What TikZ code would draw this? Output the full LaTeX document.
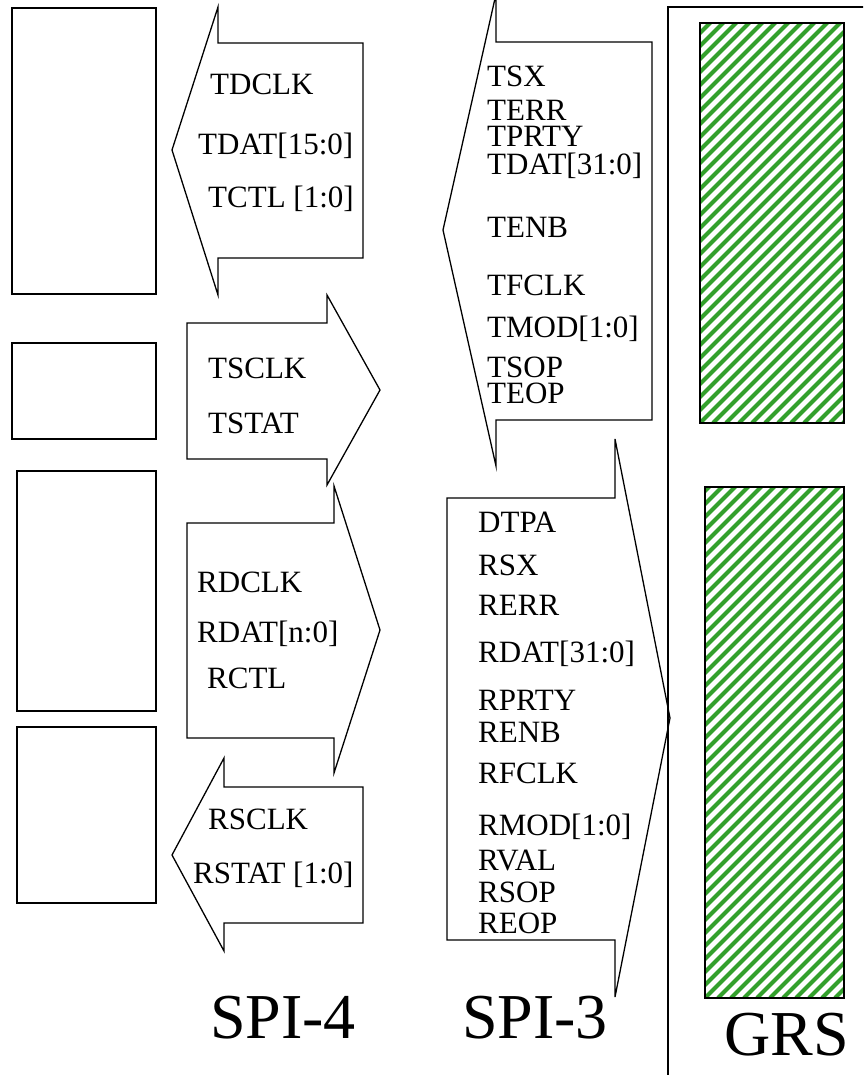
\documentclass[tikz,border=0pt]{standalone}
\usepackage{fontspec}
\setmainfont{Liberation Serif}
\usetikzlibrary{calc,positioning}
\definecolor{hatchgreen}{RGB}{51,160,44}

\begin{document}
\begin{tikzpicture}[x=1pt,y=-1pt,
  sig/.style={anchor=base west,inner sep=0pt,font=\fontsize{31}{31}\selectfont},
  big/.style={anchor=base,inner sep=0pt,font=\fontsize{64}{64}\selectfont},
  blk/.style={draw,line width=1.8pt},
  bus/.style={draw,line width=1.3pt,line join=miter},
  stripe/.style={draw=hatchgreen,line width=4.2pt}]

\useasboundingbox (0,0) rectangle (863,1075);
\clip (0,0) rectangle (863,1075);

% blocks on the left
\draw[blk] (12,8) rectangle (156,294);
\draw[blk] (12,343) rectangle (156,439);
\draw[blk] (17,471) rectangle (156,711);
\draw[blk] (17,727) rectangle (156,903);

% SPI-4 busses
\coordinate (tdtip) at (172,150);
\draw[bus] (tdtip) -- (218,7) -- (218,43) -- (363,43) -- (363,258)
  -- (218,258) -- (218,295) -- cycle;
\node[sig] (tdclk) at (210,95) {TDCLK};
\node[sig] (tdat) at (198,155) {TDAT[15:0]};
\node[sig] (tctl) at (208,208) {TCTL [1:0]};

\coordinate (tstip) at (380,390);
\draw[bus] (tstip) -- (327,485) -- (327,459) -- (187,459) -- (187,323)
  -- (327,323) -- (327,295) -- cycle;
\node[sig] (tsclk) at (208,378) {TSCLK};
\node[sig] (tstat) at (208,433) {TSTAT};

\coordinate (rdtip) at (380,630);
\draw[bus] (rdtip) -- (334,773) -- (334,738) -- (187,738) -- (187,523)
  -- (334,523) -- (334,486) -- cycle;
\node[sig] (rdclk) at (197,592) {RDCLK};
\node[sig] (rdat) at (197,642) {RDAT[n:0]};
\node[sig] (rctl) at (207,688) {RCTL};

\coordinate (rstip) at (172,855);
\draw[bus] (rstip) -- (224,758) -- (224,787) -- (363,787) -- (363,923)
  -- (224,923) -- (224,951) -- cycle;
\node[sig] (rsclk) at (208,829) {RSCLK};
\node[sig] (rstat) at (193,883) {RSTAT [1:0]};

% SPI-3 busses
\coordinate (txtip) at (443,230);
\draw[bus] (txtip) -- (496,-6) -- (496,42) -- (652,42) -- (652,420)
  -- (496,420) -- (496,466) -- cycle;
\node[sig] (tsx) at (487,87) {TSX};
\node[sig] (terr) at (487,121) {TERR};
\node[sig] (tprty) at (487,147) {TPRTY};
\node[sig] (tdat32) at (487,175) {TDAT[31:0]};
\node[sig] (tenb) at (487,237) {TENB};
\node[sig] (tfclk) at (487,295) {TFCLK};
\node[sig] (tmod) at (487,337) {TMOD[1:0]};
\node[sig] (tsop) at (487,377) {TSOP};
\node[sig] (teop) at (487,403) {TEOP};

\coordinate (rxtip) at (670,718);
\draw[bus] (rxtip) -- (615,997) -- (615,940) -- (447,940) -- (447,498)
  -- (615,498) -- (615,439) -- cycle;
\node[sig] (dtpa) at (478,532) {DTPA};
\node[sig] (rsx) at (478,575) {RSX};
\node[sig] (rerr) at (478,615) {RERR};
\node[sig] (rdat32) at (478,662) {RDAT[31:0]};
\node[sig] (rprty) at (478,710) {RPRTY};
\node[sig] (renb) at (478,742) {RENB};
\node[sig] (rfclk) at (478,783) {RFCLK};
\node[sig] (rmod) at (478,835) {RMOD[1:0]};
\node[sig] (rval) at (478,870) {RVAL};
\node[sig] (rsop) at (478,902) {RSOP};
\node[sig] (reop) at (478,933) {REOP};

% GRS side
\draw[blk] (870,7) -- (668,7) -- (668,1080);

\begin{scope}
\clip (700,23) rectangle (844,423);
\foreach \k in {-40,...,15}
  \draw[stripe] (700+\k*13,423) -- ++(420,-420);
\end{scope}
\draw[blk] (700,23) rectangle (844,423);

\begin{scope}
\clip (705,487) rectangle (844,998);
\foreach \k in {-48,...,12}
  \draw[stripe] (705+\k*13,998) -- ++(530,-530);
\end{scope}
\draw[blk] (705,487) rectangle (844,998);

\node[big] (spifour) at (283,1038) {SPI-4};
\node[big] (spithree) at (535,1038) {SPI-3};
\node[big] (grs) at (787,1055) {GRS};

\end{tikzpicture}
\end{document}
